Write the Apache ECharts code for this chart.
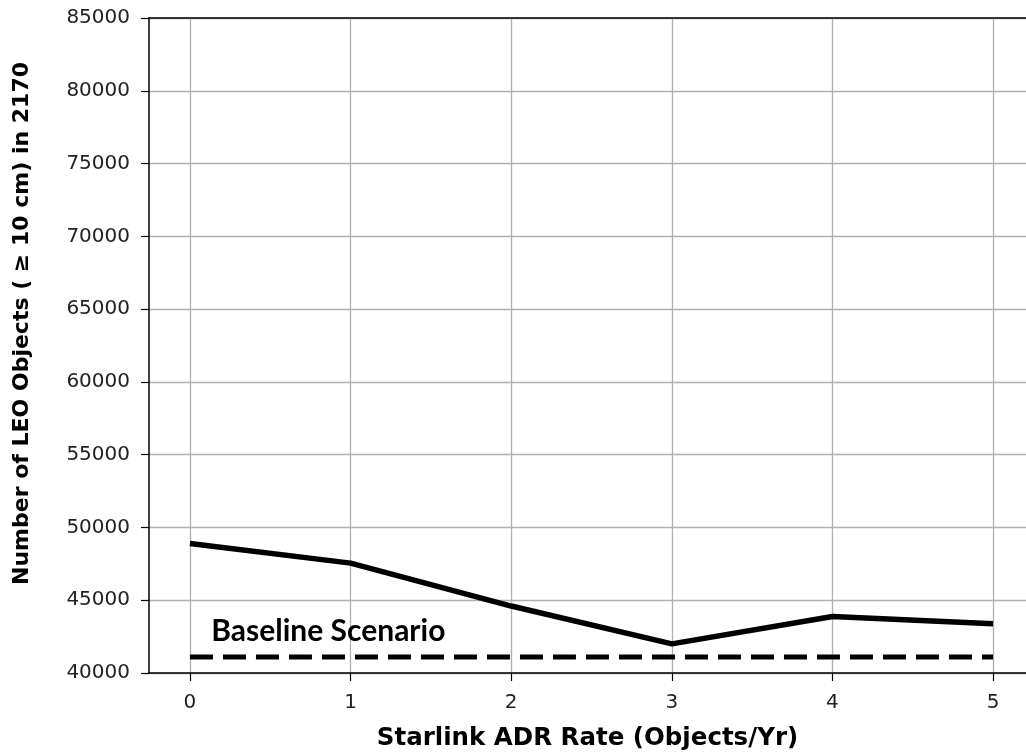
<!DOCTYPE html>
<html lang="en">
<head>
    <meta charset="utf-8" />
    <title>Starlink ADR Rate</title>
    <script type="text/javascript" src="https://cdn.jsdelivr.net/npm/echarts@6/dist/echarts.min.js"></script>
    <style>
        html, body { margin: 0; padding: 0; background: #fff; }
        #chart { width: 1026px; height: 756px; }
    </style>
</head>
<body>
    <div id="chart"></div>
    <script type="text/javascript">
        // data
        var adrRates = [0, 1, 2, 3, 4, 5];
        var leoObjects = [48900, 47550, 44600, 42000, 43880, 43380];
        var baselineValue = 41100;
        var xTicks = [0, 1, 2, 3, 4, 5];
        var yTicks = [40000, 45000, 50000, 55000, 60000, 65000, 70000, 75000, 80000, 85000];

        var chart = echarts.init(document.getElementById('chart'));

        var lineData = [];
        var baseData = [];
        for (var i = 0; i < adrRates.length; i++) {
            lineData.push([adrRates[i], leoObjects[i]]);
            baseData.push([adrRates[i], baselineValue]);
        }

        var txtFont = 'DejaVu Sans';

        var option = {
            animation: false,
            backgroundColor: '#fff',
            grid: {
                left: 149,
                right: 0,
                top: 18,
                bottom: 82,
                show: false
            },
            xAxis: [{
                type: 'value',
                min: -0.255,
                max: 5.205,
                position: 'bottom',
                name: 'Starlink ADR Rate (Objects/Yr)',
                nameLocation: 'middle',
                nameGap: 53,
                nameTextStyle: { fontFamily: txtFont, fontWeight: 'bold', fontSize: 24.5, color: '#000' },
                axisLine: { show: true, onZero: false, lineStyle: { color: '#000', width: 1.5 } },
                axisTick: { show: true, length: 8, customValues: xTicks, lineStyle: { color: '#000', width: 1.2 } },
                axisLabel: { fontFamily: txtFont, fontSize: 20, color: '#222', margin: 20, customValues: xTicks },
                splitLine: { show: true, lineStyle: { color: '#b0b0b0', width: 1.3 } }
            }, {
                type: 'value',
                min: -0.255,
                max: 5.205,
                position: 'top',
                axisLine: { show: true, onZero: false, lineStyle: { color: '#000', width: 1.5 } },
                axisTick: { show: false },
                axisLabel: { show: false },
                splitLine: { show: false }
            }],
            yAxis: {
                type: 'value',
                min: yTicks[0],
                max: yTicks[yTicks.length - 1],
                interval: 5000,
                name: 'Number of LEO Objects ( \u2265 10 cm) in 2170',
                nameLocation: 'middle',
                nameGap: 116,
                nameTextStyle: { fontFamily: txtFont, fontWeight: 'bold', fontSize: 22, color: '#000', padding: [0, 0, 0, 44] },
                axisLine: { show: true, onZero: false, lineStyle: { color: '#000', width: 1.5 } },
                axisTick: { show: true, length: 8, lineStyle: { color: '#000', width: 1.2 } },
                axisLabel: {
                    fontFamily: txtFont, fontSize: 20, color: '#222', margin: 19,
                    formatter: function (v) { return String(v); }
                },
                splitLine: { show: true, lineStyle: { color: '#b0b0b0', width: 1.3 } }
            },
            series: [{
                name: 'Starlink ADR',
                type: 'line',
                data: lineData,
                symbol: 'none',
                lineStyle: { color: '#000', width: 5.5 }
            }, {
                name: 'Baseline Scenario',
                type: 'line',
                data: baseData,
                symbol: 'none',
                lineStyle: { color: '#000', width: 5, type: [23, 10] },
                markPoint: {
                    symbol: 'rect',
                    symbolSize: 1,
                    itemStyle: { color: 'rgba(0,0,0,0)' },
                    data: [{ coord: [0.13, 42850] }],
                    label: {
                        show: true,
                        position: 'right',
                        distance: 0,
                        formatter: 'Baseline Scenario',
                        fontFamily: 'Lato',
                        fontWeight: 'bold',
                        fontSize: 30,
                        color: '#000'
                    }
                }
            }]
        };

        chart.setOption(option);
    </script>
</body>
</html>
